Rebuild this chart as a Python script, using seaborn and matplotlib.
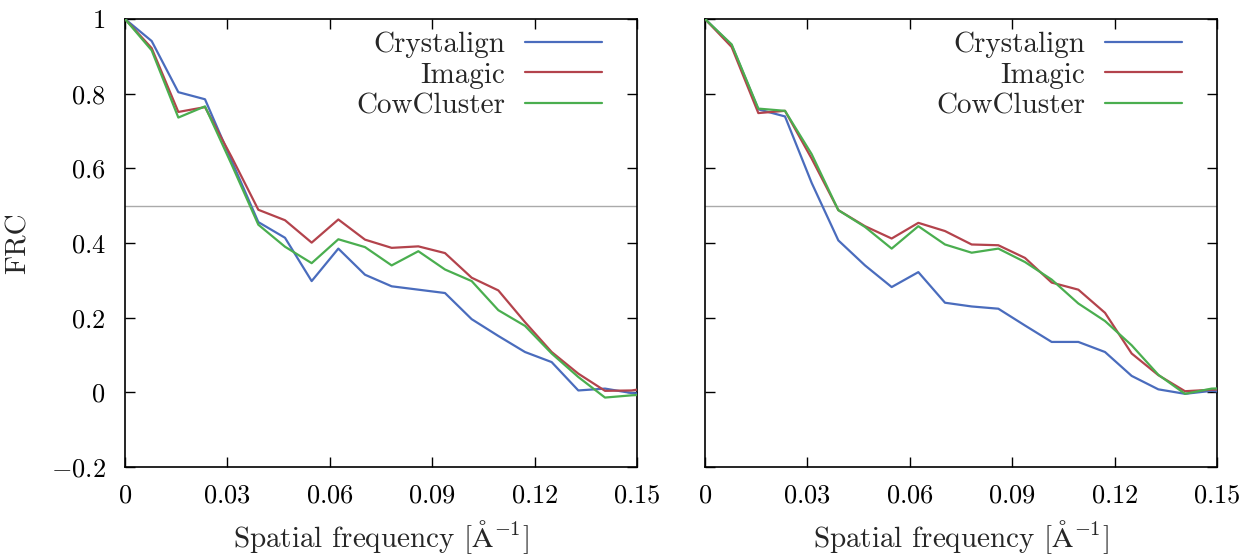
import numpy as np
import pandas as pd
import matplotlib
matplotlib.use("Agg")
import matplotlib.pyplot as plt
from matplotlib.ticker import FixedLocator, FuncFormatter
import seaborn as sns

# Spatial frequency samples (1/Å): k / 128
freq = [k / 128 for k in range(21)]

methods = ["Crystalign", "Imagic", "CowCluster"]
colors = ["#4a6cbd", "#b3434c", "#4aae4f"]

# Left panel FRC curves
left_crystalign = [1.0, 0.941, 0.804, 0.785, 0.62, 0.456, 0.414, 0.298, 0.385, 0.315,
                   0.284, 0.275, 0.266, 0.196, 0.151, 0.108, 0.081, 0.005, 0.010, -0.002, -0.006]
left_imagic = [1.0, 0.922, 0.751, 0.764, 0.63, 0.489, 0.461, 0.401, 0.463, 0.409,
               0.387, 0.391, 0.373, 0.307, 0.273, 0.188, 0.108, 0.050, 0.004, 0.005, 0.016]
left_cowcluster = [1.0, 0.916, 0.736, 0.766, 0.61, 0.449, 0.390, 0.346, 0.410, 0.389,
                   0.340, 0.378, 0.329, 0.298, 0.220, 0.178, 0.104, 0.041, -0.014, -0.008, -0.004]

# Right panel FRC curves
right_crystalign = [1.0, 0.930, 0.758, 0.739, 0.561, 0.407, 0.340, 0.282, 0.322, 0.240,
                    0.230, 0.224, 0.179, 0.135, 0.135, 0.108, 0.044, 0.008, -0.004, 0.004, -0.004]
right_imagic = [1.0, 0.925, 0.748, 0.754, 0.626, 0.488, 0.445, 0.412, 0.454, 0.432,
                0.396, 0.394, 0.360, 0.294, 0.275, 0.213, 0.104, 0.046, 0.003, 0.007, 0.010]
right_cowcluster = [1.0, 0.932, 0.760, 0.754, 0.638, 0.488, 0.443, 0.385, 0.445, 0.396,
                    0.374, 0.385, 0.349, 0.302, 0.238, 0.191, 0.126, 0.047, -0.004, 0.010, 0.012]

threshold = 0.5
x_ticks = [0, 0.03, 0.06, 0.09, 0.12, 0.15]
y_ticks = [-0.2, 0, 0.2, 0.4, 0.6, 0.8, 1.0]


def long_frame(curves):
    rows = []
    for name, vals in zip(methods, curves):
        for f, v in zip(freq, vals):
            rows.append({"freq": f, "frc": v, "method": name})
    return pd.DataFrame(rows)


panels = [
    long_frame([left_crystalign, left_imagic, left_cowcluster]),
    long_frame([right_crystalign, right_imagic, right_cowcluster]),
]

sns.set_theme(style="white")
plt.rcParams.update({
    "font.family": "serif",
    "font.serif": ["cmr10"],
    "mathtext.fontset": "cm",
    "axes.formatter.use_mathtext": True,
    "axes.unicode_minus": True,
    "font.size": 21,
})

TEXT = 21
TICK = 19

fig = plt.figure(figsize=(12.46, 5.57), dpi=100)
ax_l = fig.add_axes([125 / 1246, 1 - 467 / 557, 512 / 1246, 448 / 557])
ax_r = fig.add_axes([705 / 1246, 1 - 467 / 557, 512 / 1246, 448 / 557])

fmt = FuncFormatter(lambda v, pos: "$%s$" % ("%g" % v))

for i, (ax, df) in enumerate(zip([ax_l, ax_r], panels)):
    ax.axhline(threshold, color="#aaaaaa", lw=1.0, zorder=1)
    sns.lineplot(data=df, x="freq", y="frc", hue="method", palette=colors,
                 hue_order=methods, linewidth=1.6, ax=ax, zorder=3)
    ax.set_xlim(0, 0.15)
    ax.set_ylim(-0.2, 1.0)
    ax.xaxis.set_major_locator(FixedLocator(x_ticks))
    ax.yaxis.set_major_locator(FixedLocator(y_ticks))
    ax.xaxis.set_major_formatter(fmt)
    ax.yaxis.set_major_formatter(fmt)
    ax.tick_params(direction="in", length=7, width=1.0, top=True, right=True,
                   bottom=True, left=True, labelsize=TICK, colors="black")
    ax.tick_params(axis="x", pad=12)
    ax.tick_params(axis="y", pad=14)
    for s in ax.spines.values():
        s.set_visible(True)
        s.set_color("black")
        s.set_linewidth(1.2)
    ax.set_xlabel(r"Spatial frequency $[\mathrm{\AA}^{-1}]$", fontsize=TEXT, labelpad=8)
    if i == 0:
        ax.set_ylabel("FRC", fontsize=TEXT, labelpad=14)
    else:
        ax.set_ylabel("")
        ax.tick_params(labelleft=False)
    ax.grid(False)
    leg = ax.legend(loc="upper right", bbox_to_anchor=(0.932, 0.972), frameon=False,
                    markerfirst=False, handlelength=2.65, handletextpad=0.68,
                    labelspacing=0.14, borderaxespad=0.0, borderpad=0.0, fontsize=TEXT)
    for line in leg.get_lines():
        line.set_linewidth(1.6)
    for t in leg.get_texts():
        t.set_ha("right")

fig.savefig("out.png", dpi=100)
